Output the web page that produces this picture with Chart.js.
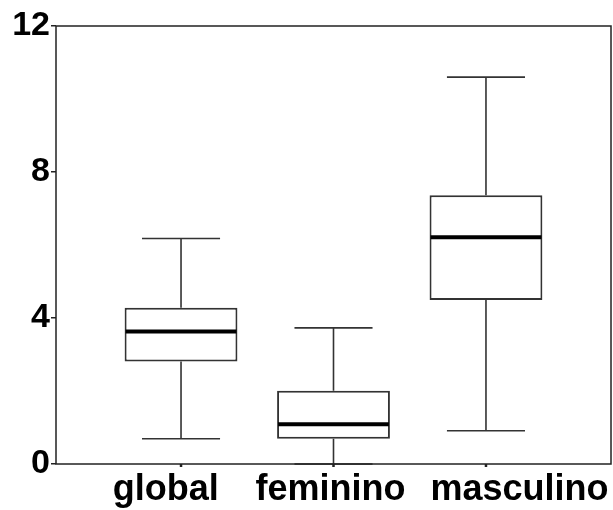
<!DOCTYPE html>
<html>
<head>
<meta charset="utf-8">
<script src="https://cdn.jsdelivr.net/npm/chart.js@4/dist/chart.umd.min.js"></script>
<style>
  body { margin: 0; background: #fff; }
  #wrap { width: 613px; height: 510px; }
</style>
</head>
<body>
<div id="wrap"><canvas id="boxChart" width="613" height="510"></canvas></div>
<script>
// box plot values
var categories = ['global', 'feminino', 'masculino'];
var whiskerLow = [0.69, 0, 0.91];
var q1 = [2.81, 0.69, 4.49];
var median = [3.63, 1.09, 6.21];
var q3 = [4.28, 2.01, 7.36];
var whiskerHigh = [6.18, 3.73, 10.60];
var yTicks = [0, 4, 8, 12];

// label shifts (labels in the original are not centred on their boxes)
var labelShift = [-0.1, -0.02, 0.22];
var capHalf = 0.256;

var boxes = categories.map(function(c, i) {
  return { x: i, y: [q1[i], q3[i]] };
});

var boxPlotLines = {
  id: 'boxPlotLines',
  beforeDatasetsDraw: function(chart) {
    var ctx = chart.ctx;
    var xs = chart.scales.x, ys = chart.scales.y;
    ctx.save();
    ctx.strokeStyle = '#333';
    ctx.lineWidth = 1.6;
    for (var i = 0; i < categories.length; i++) {
      var cx = xs.getPixelForValue(i);
      ctx.beginPath();
      ctx.moveTo(cx, ys.getPixelForValue(whiskerLow[i]));
      ctx.lineTo(cx, ys.getPixelForValue(q1[i]));
      ctx.moveTo(cx, ys.getPixelForValue(q3[i]));
      ctx.lineTo(cx, ys.getPixelForValue(whiskerHigh[i]));
      // caps
      ctx.moveTo(xs.getPixelForValue(i - capHalf), ys.getPixelForValue(whiskerLow[i]));
      ctx.lineTo(xs.getPixelForValue(i + capHalf), ys.getPixelForValue(whiskerLow[i]));
      ctx.moveTo(xs.getPixelForValue(i - capHalf), ys.getPixelForValue(whiskerHigh[i]));
      ctx.lineTo(xs.getPixelForValue(i + capHalf), ys.getPixelForValue(whiskerHigh[i]));
      ctx.stroke();
    }
    ctx.restore();
  },
  afterDatasetsDraw: function(chart) {
    var ctx = chart.ctx;
    var xs = chart.scales.x, ys = chart.scales.y;
    var meta = chart.getDatasetMeta(0);
    ctx.save();
    ctx.strokeStyle = '#000';
    ctx.lineWidth = 4;
    for (var i = 0; i < categories.length; i++) {
      var bar = meta.data[i];
      var half = bar.width / 2;
      var my = ys.getPixelForValue(median[i]);
      ctx.beginPath();
      ctx.moveTo(bar.x - half + 1, my);
      ctx.lineTo(bar.x + half - 1, my);
      ctx.stroke();
    }
    ctx.restore();
  },
  afterDraw: function(chart) {
    var ctx = chart.ctx;
    var a = chart.chartArea;
    var xs = chart.scales.x;
    ctx.save();
    ctx.strokeStyle = '#222';
    ctx.lineWidth = 1.5;
    ctx.strokeRect(a.left, a.top, a.right - a.left, a.bottom - a.top);
    // little tick marks under each box
    ctx.lineWidth = 2.5;
    for (var i = 0; i < categories.length; i++) {
      var cx = xs.getPixelForValue(i);
      ctx.beginPath();
      ctx.moveTo(cx, a.bottom);
      ctx.lineTo(cx, a.bottom + 3);
      ctx.stroke();
    }
    ctx.restore();
  }
};

var ctx = document.getElementById('boxChart').getContext('2d');
var boxChart = new Chart(ctx, {
  type: 'bar',
  data: {
    datasets: [{
      data: boxes,
      backgroundColor: '#fff',
      borderColor: '#333',
      borderWidth: 2,
      borderSkipped: false,
      barPercentage: 0.74,
      categoryPercentage: 1
    }]
  },
  options: {
    responsive: false,
    animation: false,
    layout: { padding: { top: 26, right: 2, left: 0, bottom: 0 } },
    plugins: { legend: { display: false }, tooltip: { enabled: false } },
    scales: {
      x: {
        type: 'linear',
        offset: false,
        min: -0.82,
        max: 2.82,
        grid: { display: false, drawTicks: false, offset: false },
        border: { display: false },
        afterBuildTicks: function(scale) {
          scale.ticks = categories.map(function(c, i) { return { value: i + labelShift[i] }; });
        },
        afterFit: function(scale) { scale.height = 46; },
        ticks: {
          autoSkip: false,
          maxRotation: 0,
          padding: 4,
          color: '#000',
          font: { family: 'Liberation Sans', size: 36, weight: 'bold' },
          callback: function(value, index) { return categories[index]; }
        }
      },
      y: {
        min: 0,
        max: 12,
        afterBuildTicks: function(scale) {
          scale.ticks = yTicks.map(function(v) { return { value: v }; });
        },
        afterFit: function(scale) { scale.width = 56; },
        grid: { drawOnChartArea: false, tickLength: 5, color: '#222', lineWidth: 1.5 },
        border: { display: false },
        ticks: {
          padding: 1,
          color: '#000',
          font: { family: 'Liberation Sans', size: 34, weight: 'bold' }
        }
      }
    }
  },
  plugins: [boxPlotLines]
});
</script>
</body>
</html>
